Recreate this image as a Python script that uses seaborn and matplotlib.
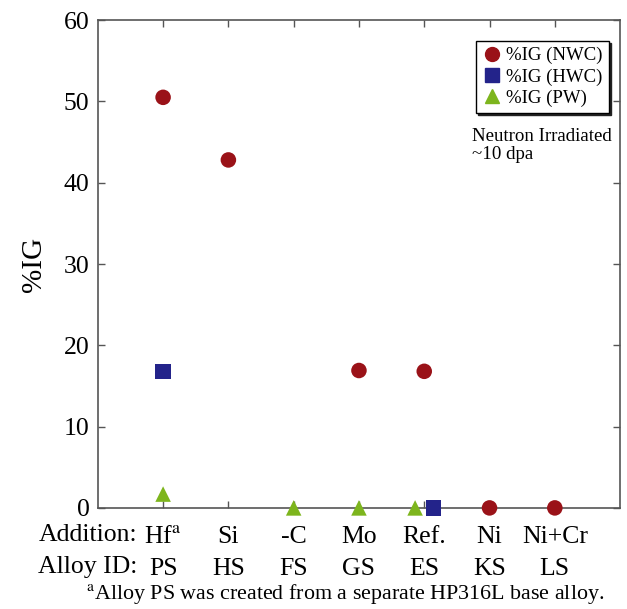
import matplotlib.pyplot as plt
import seaborn as sns
import pandas as pd
import numpy as np

# data
additions = ['Hf', 'Si', '-C', 'Mo', 'Ref.', 'Ni', 'Ni+Cr']
alloy_ids = ['PS', 'HS', 'FS', 'GS', 'ES', 'KS', 'LS']
ig_nwc = [50.5, 42.8, np.nan, 16.9, 16.8, 0.0, 0.0]
ig_hwc = [16.8, np.nan, np.nan, np.nan, 0.0, np.nan, np.nan]
ig_pw = [1.7, np.nan, 0.0, 0.0, 0.0, np.nan, np.nan]

series_names = ['%IG (NWC)', '%IG (HWC)', '%IG (PW)']
colors = {'%IG (NWC)': '#9a1218', '%IG (HWC)': '#23238a', '%IG (PW)': '#7db51d'}
markers = {'%IG (NWC)': 'o', '%IG (HWC)': 's', '%IG (PW)': '^'}
# small horizontal shift where markers overlap (Ref. alloy)
shift = {('Ref.', '%IG (HWC)'): 0.14, ('Ref.', '%IG (PW)'): -0.14}

rows = []
for name, vals in zip(series_names, [ig_nwc, ig_hwc, ig_pw]):
    for i, (add, v) in enumerate(zip(additions, vals)):
        if not np.isnan(v):
            rows.append({'x': i + 1 + shift.get((add, name), 0.0), 'IG': v, 'series': name})
df = pd.DataFrame(rows)

sns.set_style('ticks')
plt.rcParams['font.family'] = ['Liberation Serif', 'DejaVu Serif']
plt.rcParams['mathtext.fontset'] = 'stix'
plt.rcParams['text.color'] = 'black'
plt.rcParams['xtick.labelcolor'] = 'black'
plt.rcParams['ytick.labelcolor'] = 'black'
plt.rcParams['axes.labelcolor'] = 'black'

fig = plt.figure(figsize=(6.27, 6.09), dpi=100)
ax = fig.add_axes([0.156, 0.166, 0.833, 0.801])

sns.scatterplot(data=df, x='x', y='IG', hue='series', style='series',
                hue_order=series_names, style_order=series_names,
                palette=colors, markers=markers, s=125, linewidth=0,
                clip_on=False, zorder=3, ax=ax, legend=False)

ax.set_xlim(0, 8)
ax.set_ylim(0, 60)
ax.set_yticks(range(0, 61, 10))
ax.set_xticks(range(1, len(additions) + 1))
labels = [f'{a}$^{{\\rm a}}$\n{b}' if a == 'Hf' else f'{a}\n{b}'
          for a, b in zip(additions, alloy_ids)]
ax.set_xticklabels(labels)
for t in ax.get_xticklabels():
    t.set_linespacing(1.6)
ax.tick_params(direction='in', top=True, right=True, length=5, width=1,
               color='#555555', labelsize=18.5)
ax.tick_params(axis='x', pad=13)
ax.tick_params(axis='y', pad=6)
for sp in ax.spines.values():
    sp.set_color('#555555')
    sp.set_linewidth(1.2)
ax.set_xlabel('')
ax.set_ylabel('%IG', fontsize=21, labelpad=12)

fig.text(0.219, 0.095, 'Addition:\nAlloy ID:', ha='right', va='center',
         fontsize=18.5, linespacing=1.6)
fig.text(0.55, 0.024, '$^{\\rm a}$Alloy PS was created from a separate HP316L base alloy.',
         ha='center', va='center', fontsize=15.8)

handles = [plt.Line2D([], [], linestyle='none', marker=markers[n], color=colors[n],
                      markersize=10) for n in series_names]
leg = ax.legend(handles, series_names, loc='upper right', bbox_to_anchor=(0.978, 0.958),
                fontsize=13.5, frameon=True, fancybox=False,
                shadow={'color': '#222222', 'alpha': 1.0, 'ox': 1.5, 'oy': -1.5},
                handletextpad=0.15, borderpad=0.35, labelspacing=0.2, handlelength=1.1,
                borderaxespad=0)
leg.get_frame().set_edgecolor('black')
leg.get_frame().set_linewidth(1.0)

ax.text(0.716, 0.779, 'Neutron Irradiated\n~10 dpa', transform=ax.transAxes,
        ha='left', va='top', fontsize=13.6, linespacing=1.1)

fig.savefig('out.png', dpi=100)
